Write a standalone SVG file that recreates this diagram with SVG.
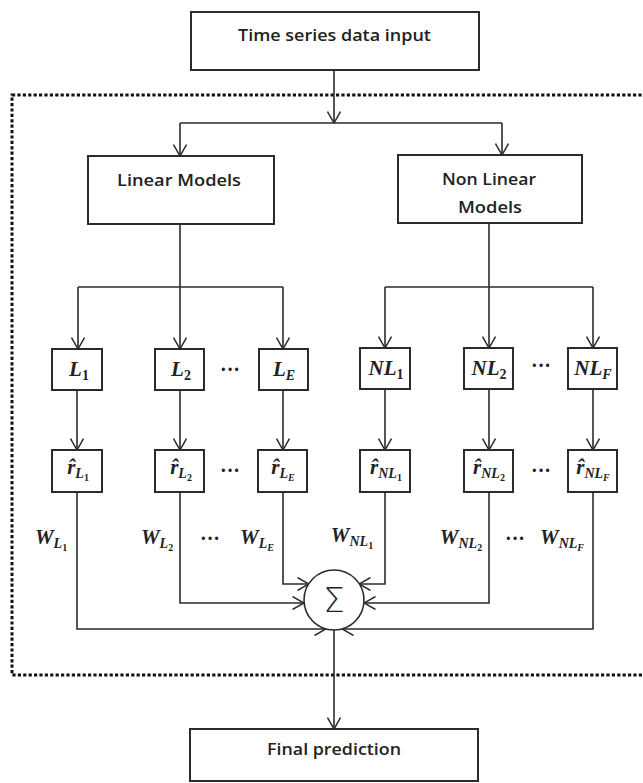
<svg xmlns="http://www.w3.org/2000/svg" width="643" height="783" viewBox="0 0 643 783">
<defs>
<marker id="arr" viewBox="0 0 12 14" refX="12" refY="7" markerWidth="12" markerHeight="14" markerUnits="userSpaceOnUse" orient="auto">
<path d="M0.5,0.5 L12,7 L0.5,13.5" fill="none" stroke="#2b2b2b" stroke-width="1.5"/>
</marker>
<style>
.box{fill:#fff;stroke:#2b2b2b;stroke-width:2}
.ln{fill:none;stroke:#2b2b2b;stroke-width:1.6}
.ar{marker-end:url(#arr)}
.lbl{font-family:"Open Sans","Liberation Sans",sans-serif;font-weight:600;font-size:17px;fill:#222;text-anchor:middle}
.m{font-family:"Liberation Serif","DejaVu Serif",serif;font-style:italic;font-weight:bold;fill:#222;text-anchor:middle}
.big{font-size:21px}
.s1{font-size:14px}
.s2{font-size:10px;font-style:normal}
.it{font-style:italic}
.dots{font-family:"Liberation Serif",serif;font-size:20px;font-weight:bold;fill:#222;text-anchor:middle}
.border{fill:none;stroke:#111;stroke-width:3;stroke-dasharray:3.2 2.2}
</style>
</defs>
<rect class="border" x="12" y="95" width="700" height="580"/>
<g id="connectors">
<path class="ln ar" d="M334,70 V123"/>
<path class="ln" d="M180,123 H502"/>
<path class="ln ar" d="M180,123 V156"/>
<path class="ln ar" d="M502,123 V155"/>
<path class="ln" d="M180,224 V287"/>
<path class="ln" d="M78,287 H283"/>
<path class="ln ar" d="M78,287 V349"/>
<path class="ln ar" d="M180,287 V349"/>
<path class="ln ar" d="M283,287 V349"/>
<path class="ln" d="M489,223 V287"/>
<path class="ln" d="M385,287 H593"/>
<path class="ln ar" d="M385,287 V348"/>
<path class="ln ar" d="M489,287 V348"/>
<path class="ln ar" d="M593,287 V348"/>
<path class="ln ar" d="M77,390 V450"/>
<path class="ln ar" d="M180,390 V450"/>
<path class="ln ar" d="M283,390 V450"/>
<path class="ln ar" d="M385,389 V450"/>
<path class="ln ar" d="M489,389 V450"/>
<path class="ln ar" d="M593,389 V450"/>
<path class="ln ar" d="M77,492 V629 H326"/>
<path class="ln ar" d="M180,492 V603 H304"/>
<path class="ln ar" d="M283,492 V584 H309"/>
<path class="ln ar" d="M385,492 V584 H359"/>
<path class="ln ar" d="M489,492 V603 H364"/>
<path class="ln ar" d="M593,492 V629 H342"/>
<path class="ln ar" d="M334,630 V729"/>
</g>
<g id="input">
<rect class="box" x="191" y="12" width="288" height="58"/>
<text class="lbl" x="334.5" y="41" textLength="193" lengthAdjust="spacingAndGlyphs">Time series data input</text>
</g>
<g id="linear">
<rect class="box" x="88" y="156" width="186" height="68"/>
<text class="lbl" x="179" y="186" textLength="124" lengthAdjust="spacingAndGlyphs">Linear Models</text>
</g>
<g id="nonlinear">
<rect class="box" x="398" y="155" width="184" height="68"/>
<text class="lbl" x="489" y="185" textLength="94" lengthAdjust="spacingAndGlyphs">Non Linear</text>
<text class="lbl" x="490" y="213" textLength="64" lengthAdjust="spacingAndGlyphs">Models</text>
</g>
<g id="L1"><rect class="box" x="52" y="349" width="50" height="41"/>
<text class="m" x="79" y="376"><tspan class="big">L</tspan><tspan class="s1" font-style="normal" dy="4">1</tspan></text></g>
<g id="L2"><rect class="box" x="155" y="349" width="49" height="41"/>
<text class="m" x="181" y="376"><tspan class="big">L</tspan><tspan class="s1" font-style="normal" dy="4">2</tspan></text></g>
<g id="LE"><rect class="box" x="259" y="349" width="49" height="41"/>
<text class="m" x="284" y="376"><tspan class="big">L</tspan><tspan class="s1" dy="4">E</tspan></text></g>
<g id="NL1"><rect class="box" x="360" y="348" width="50" height="41"/>
<text class="m" x="386" y="375"><tspan class="big">NL</tspan><tspan class="s1" font-style="normal" dy="4">1</tspan></text></g>
<g id="NL2"><rect class="box" x="464" y="348" width="49" height="41"/>
<text class="m" x="489" y="375"><tspan class="big">NL</tspan><tspan class="s1" font-style="normal" dy="4">2</tspan></text></g>
<g id="NLF"><rect class="box" x="568" y="348" width="49" height="41"/>
<text class="m" x="593" y="375"><tspan class="big">NL</tspan><tspan class="s1" dy="4">F</tspan></text></g>
<g id="rL1"><rect class="box" x="52" y="450" width="50" height="42"/>
<text class="m" x="78" y="474"><tspan class="big">r&#x302;</tspan><tspan class="s1" dy="4">L</tspan><tspan class="s2" dy="3">1</tspan></text></g>
<g id="rL2"><rect class="box" x="155" y="450" width="49" height="42"/>
<text class="m" x="181" y="474"><tspan class="big">r&#x302;</tspan><tspan class="s1" dy="4">L</tspan><tspan class="s2" dy="3">2</tspan></text></g>
<g id="rLE"><rect class="box" x="258" y="450" width="49" height="42"/>
<text class="m" x="283" y="474"><tspan class="big">r&#x302;</tspan><tspan class="s1" dy="4">L</tspan><tspan class="s2 it" dy="3">E</tspan></text></g>
<g id="rNL1"><rect class="box" x="360" y="450" width="50" height="42"/>
<text class="m" x="386" y="474"><tspan class="big">r&#x302;</tspan><tspan class="s1" dy="4">NL</tspan><tspan class="s2" dy="3">1</tspan></text></g>
<g id="rNL2"><rect class="box" x="464" y="450" width="49" height="42"/>
<text class="m" x="489" y="474"><tspan class="big">r&#x302;</tspan><tspan class="s1" dy="4">NL</tspan><tspan class="s2" dy="3">2</tspan></text></g>
<g id="rNLF"><rect class="box" x="568" y="450" width="49" height="42"/>
<text class="m" x="593" y="474"><tspan class="big">r&#x302;</tspan><tspan class="s1" dy="4">NL</tspan><tspan class="s2 it" dy="3">F</tspan></text></g>
<g id="dots">
<text class="dots" x="230" y="376">···</text>
<text class="dots" x="541" y="372">···</text>
<text class="dots" x="230" y="477">···</text>
<text class="dots" x="541" y="477">···</text>
<text class="dots" x="210" y="545">···</text>
<text class="dots" x="515" y="545">···</text>
</g>
<g id="weights">
<text class="m" x="51" y="544"><tspan class="big">W</tspan><tspan class="s1" dy="4">L</tspan><tspan class="s2" dy="3">1</tspan></text>
<text class="m" x="157" y="544"><tspan class="big">W</tspan><tspan class="s1" dy="4">L</tspan><tspan class="s2" dy="3">2</tspan></text>
<text class="m" x="257" y="544"><tspan class="big">W</tspan><tspan class="s1" dy="4">L</tspan><tspan class="s2 it" dy="3">E</tspan></text>
<text class="m" x="352" y="542"><tspan class="big">W</tspan><tspan class="s1" dy="4">NL</tspan><tspan class="s2" dy="3">1</tspan></text>
<text class="m" x="461" y="544"><tspan class="big">W</tspan><tspan class="s1" dy="4">NL</tspan><tspan class="s2" dy="3">2</tspan></text>
<text class="m" x="562" y="544"><tspan class="big">W</tspan><tspan class="s1" dy="4">NL</tspan><tspan class="s2 it" dy="3">F</tspan></text>
</g>
<g id="sum">
<circle cx="334" cy="600" r="30" fill="#fff" stroke="#2b2b2b" stroke-width="1.6"/>
<text x="334" y="612" font-family="'DejaVu Sans','Liberation Sans',sans-serif" font-weight="300" font-size="34" fill="#222" text-anchor="middle">Σ</text>
</g>
<g id="final">
<rect class="box" x="190" y="729" width="288" height="52"/>
<text class="lbl" x="334" y="755" textLength="134" lengthAdjust="spacingAndGlyphs">Final prediction</text>
</g>
</svg>
